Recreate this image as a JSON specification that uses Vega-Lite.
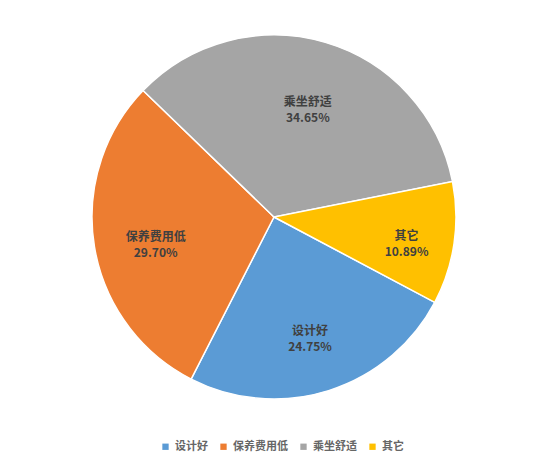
{
  "$schema": "https://vega.github.io/schema/vega-lite/v6.json",
  "width": 548,
  "height": 434,
  "padding": 0,
  "autosize": {"type": "pad"},
  "background": "white",
  "data": {
    "values": [
      {"cat": "设计好", "value": 24.75, "rank": 1},
      {"cat": "保养费用低", "value": 29.70, "rank": 2},
      {"cat": "乘坐舒适", "value": 34.65, "rank": 3},
      {"cat": "其它", "value": 10.89, "rank": 4}
    ]
  },
  "transform": [
    {"calculate": "[datum.cat, format(datum.value, '.2f') + '%']", "as": "label"},
    {"window": [{"op": "sum", "field": "value", "as": "cum"}], "sort": [{"field": "rank"}], "frame": [null, 0]},
    {"calculate": "datum.cum - datum.value / 2", "as": "mid"}
  ],
  "layer": [
    {
      "mark": {"type": "arc", "outerRadius": 182, "stroke": "white", "strokeWidth": 1.5},
      "encoding": {
        "theta": {
          "field": "value",
          "type": "quantitative",
          "stack": true,
          "scale": {"domain": [0, 99.99], "range": [2.059, 8.342]}
        },
        "order": {"field": "rank", "type": "quantitative"},
        "color": {
          "field": "cat",
          "type": "nominal",
          "scale": {
            "domain": ["设计好", "保养费用低", "乘坐舒适", "其它"],
            "range": ["#5B9BD5", "#ED7D31", "#A5A5A5", "#FFC000"]
          },
          "legend": {
            "title": null,
            "orient": "none",
            "direction": "horizontal",
            "legendX": 160,
            "legendY": 441,
            "symbolType": "square",
            "symbolSize": 40,
            "symbolStrokeWidth": 0,
            "labelFont": "Noto Sans CJK SC",
            "labelFontSize": 11,
            "labelFontWeight": "bold",
            "labelColor": "#666666",
            "labelOffset": 4,
            "columnPadding": 10,
            "padding": 0
          }
        }
      }
    },
    {
      "transform": [{"filter": "datum.cat != '其它'"}],
      "mark": {"type": "text", "radius": 120, "font": "Noto Sans CJK SC", "fontSize": 12, "fontWeight": "bold", "color": "#404040", "lineHeight": 16, "baseline": "middle"},
      "encoding": {
        "theta": {"field": "mid", "type": "quantitative", "stack": null},
        "text": {"field": "label"}
      }
    },
    {
      "transform": [{"filter": "datum.cat == '其它'"}],
      "mark": {"type": "text", "radius": 134, "font": "Noto Sans CJK SC", "fontSize": 12, "fontWeight": "bold", "color": "#404040", "lineHeight": 16, "baseline": "middle"},
      "encoding": {
        "theta": {"field": "mid", "type": "quantitative", "stack": null},
        "text": {"field": "label"}
      }
    }
  ],
  "config": {
    "view": {"stroke": null}
  }
}
